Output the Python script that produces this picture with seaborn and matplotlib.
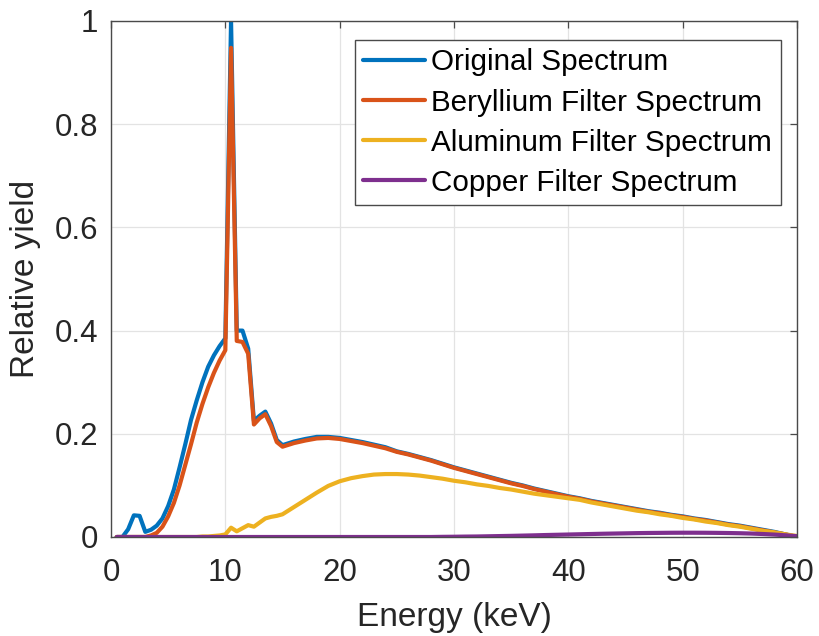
import matplotlib
matplotlib.use("Agg")
import matplotlib.pyplot as plt
import pandas as pd
import seaborn as sns

# Photon energy grid (keV): half-keV steps through the characteristic lines, 1 keV after
energy = [0.5, 1.0, 1.5, 2.0, 2.5, 3.0, 3.5, 4.0, 4.5, 5.0,
          5.5, 6.0, 6.5, 7.0, 7.5, 8.0, 8.5, 9.0, 9.5, 10.0,
          10.5, 11.0, 11.5, 12.0, 12.5, 13.0, 13.5, 14.0, 14.5, 15.0,
          16, 17, 18, 19, 20, 21, 22, 23, 24, 25,
          26, 27, 28, 29, 30, 31, 32, 33, 34, 35,
          36, 37, 38, 39, 40, 41, 42, 43, 44, 45,
          46, 47, 48, 49, 50, 51, 52, 53, 54, 55,
          56, 57, 58, 59, 60]

original = [0.0, 0.0, 0.015, 0.042, 0.041, 0.010, 0.014, 0.022, 0.036, 0.060,
            0.092, 0.135, 0.180, 0.227, 0.265, 0.300, 0.330, 0.352, 0.370, 0.385,
            1.000, 0.400, 0.400, 0.365, 0.225, 0.235, 0.243, 0.220, 0.188, 0.178,
            0.185, 0.190, 0.194, 0.194, 0.192, 0.188, 0.184, 0.179, 0.174, 0.166,
            0.161, 0.155, 0.149, 0.142, 0.135, 0.129, 0.123, 0.117, 0.111, 0.105,
            0.100, 0.094, 0.089, 0.084, 0.079, 0.075, 0.070, 0.066, 0.062, 0.058,
            0.054, 0.050, 0.047, 0.043, 0.040, 0.036, 0.033, 0.029, 0.025, 0.022,
            0.018, 0.014, 0.010, 0.005, 0.0]

beryllium = [0.0, 0.0, 0.0, 0.0, 0.0, 0.0, 0.003, 0.008, 0.020, 0.040,
             0.066, 0.100, 0.140, 0.180, 0.222, 0.258, 0.290, 0.318, 0.342, 0.362,
             0.948, 0.380, 0.378, 0.355, 0.218, 0.230, 0.238, 0.215, 0.184, 0.175,
             0.182, 0.187, 0.191, 0.192, 0.190, 0.186, 0.182, 0.177, 0.172, 0.165,
             0.160, 0.154, 0.148, 0.141, 0.134, 0.128, 0.122, 0.116, 0.110, 0.104,
             0.099, 0.093, 0.088, 0.083, 0.078, 0.074, 0.069, 0.065, 0.061, 0.057,
             0.053, 0.049, 0.046, 0.042, 0.039, 0.035, 0.032, 0.028, 0.024, 0.021,
             0.017, 0.013, 0.009, 0.005, 0.0]

aluminum = [0.0, 0.0, 0.0, 0.0, 0.0, 0.0, 0.0, 0.0, 0.0, 0.0,
            0.0, 0.0, 0.0, 0.0, 0.0, 0.001, 0.001, 0.002, 0.003, 0.005,
            0.018, 0.011, 0.017, 0.023, 0.020, 0.028, 0.036, 0.039, 0.041, 0.044,
            0.058, 0.072, 0.086, 0.099, 0.108, 0.114, 0.118, 0.121, 0.122, 0.122,
            0.121, 0.119, 0.116, 0.113, 0.109, 0.106, 0.102, 0.099, 0.095, 0.092,
            0.088, 0.084, 0.081, 0.078, 0.075, 0.072, 0.067, 0.063, 0.059, 0.055,
            0.051, 0.048, 0.044, 0.041, 0.037, 0.034, 0.030, 0.027, 0.023, 0.020,
            0.016, 0.012, 0.009, 0.005, 0.002]

copper = [0.0] * 30 + [
          0.0, 0.0, 0.0, 0.0, 0.0, 0.0, 0.0, 0.0, 0.0, 0.0,
          0.0, 0.0, 0.0, 0.0003, 0.0005, 0.0008, 0.0010, 0.0014, 0.0018, 0.0022,
          0.0027, 0.0032, 0.0038, 0.0043, 0.0048, 0.0053, 0.0058, 0.0063, 0.0067, 0.0071,
          0.0075, 0.0078, 0.0080, 0.0082, 0.0083, 0.0083, 0.0082, 0.0080, 0.0077, 0.0073,
          0.0067, 0.0058, 0.0047, 0.0033, 0.0015]

series_names = ["Original Spectrum", "Beryllium Filter Spectrum",
                "Aluminum Filter Spectrum", "Copper Filter Spectrum"]
series_values = [original, beryllium, aluminum, copper]
series_colors = ["#0072BD", "#D95319", "#EDB120", "#7E2F8E"]

x_ticks = [0, 10, 20, 30, 40, 50, 60]
y_ticks = [0, 0.2, 0.4, 0.6, 0.8, 1.0]
y_tick_labels = ["0", "0.2", "0.4", "0.6", "0.8", "1"]

frames = []
for name, vals in zip(series_names, series_values):
    frames.append(pd.DataFrame({"energy": energy, "yield": vals, "spectrum": name}))
df = pd.concat(frames, ignore_index=True)

sns.set_theme(style="white")
plt.rcParams["font.family"] = ["Liberation Sans", "DejaVu Sans"]

text_color = "#262626"
fig = plt.figure(figsize=(8.19, 6.36), dpi=100)
ax = fig.add_axes([111 / 819, 1 - 537 / 636, 686 / 819, 516 / 636])

sns.lineplot(data=df, x="energy", y="yield", hue="spectrum",
             hue_order=series_names, palette=series_colors,
             estimator=None, sort=False, linewidth=3.0, ax=ax)

ax.set_xlim(0, 60)
ax.set_ylim(0, 1)
ax.set_xticks(x_ticks)
ax.set_yticks(y_ticks)
ax.set_yticklabels(y_tick_labels)

ax.grid(True, color="#e3e3e3", linewidth=0.9)
ax.set_axisbelow(True)
for side in ["left", "right", "top", "bottom"]:
    ax.spines[side].set_visible(True)
    ax.spines[side].set_color("#4a4a4a")
    ax.spines[side].set_linewidth(1.0)

ax.tick_params(axis="both", direction="in", length=5, width=0.9,
               color="#4a4a4a", labelcolor=text_color, labelsize=22.5,
               top=True, right=True)
ax.tick_params(axis="x", pad=15)
ax.tick_params(axis="y", pad=9)

ax.set_xlabel("Energy (keV)", fontsize=24, color=text_color, labelpad=10)
ax.set_ylabel("Relative yield", fontsize=24, color=text_color, labelpad=10)

handles, labels = ax.get_legend_handles_labels()
leg = ax.legend(handles, labels, loc="upper right",
                bbox_to_anchor=(0.976, 0.963), borderaxespad=0,
                fontsize=21.3, frameon=True, fancybox=False, framealpha=1,
                edgecolor="#4a4a4a", handlelength=2.1, handletextpad=0.2,
                labelspacing=0.41, borderpad=0.28)
leg.get_frame().set_linewidth(1.0)
for line in leg.get_lines():
    line.set_linewidth(3.0)
for t in leg.get_texts():
    t.set_color("black")

fig.savefig("out.png", dpi=100)
